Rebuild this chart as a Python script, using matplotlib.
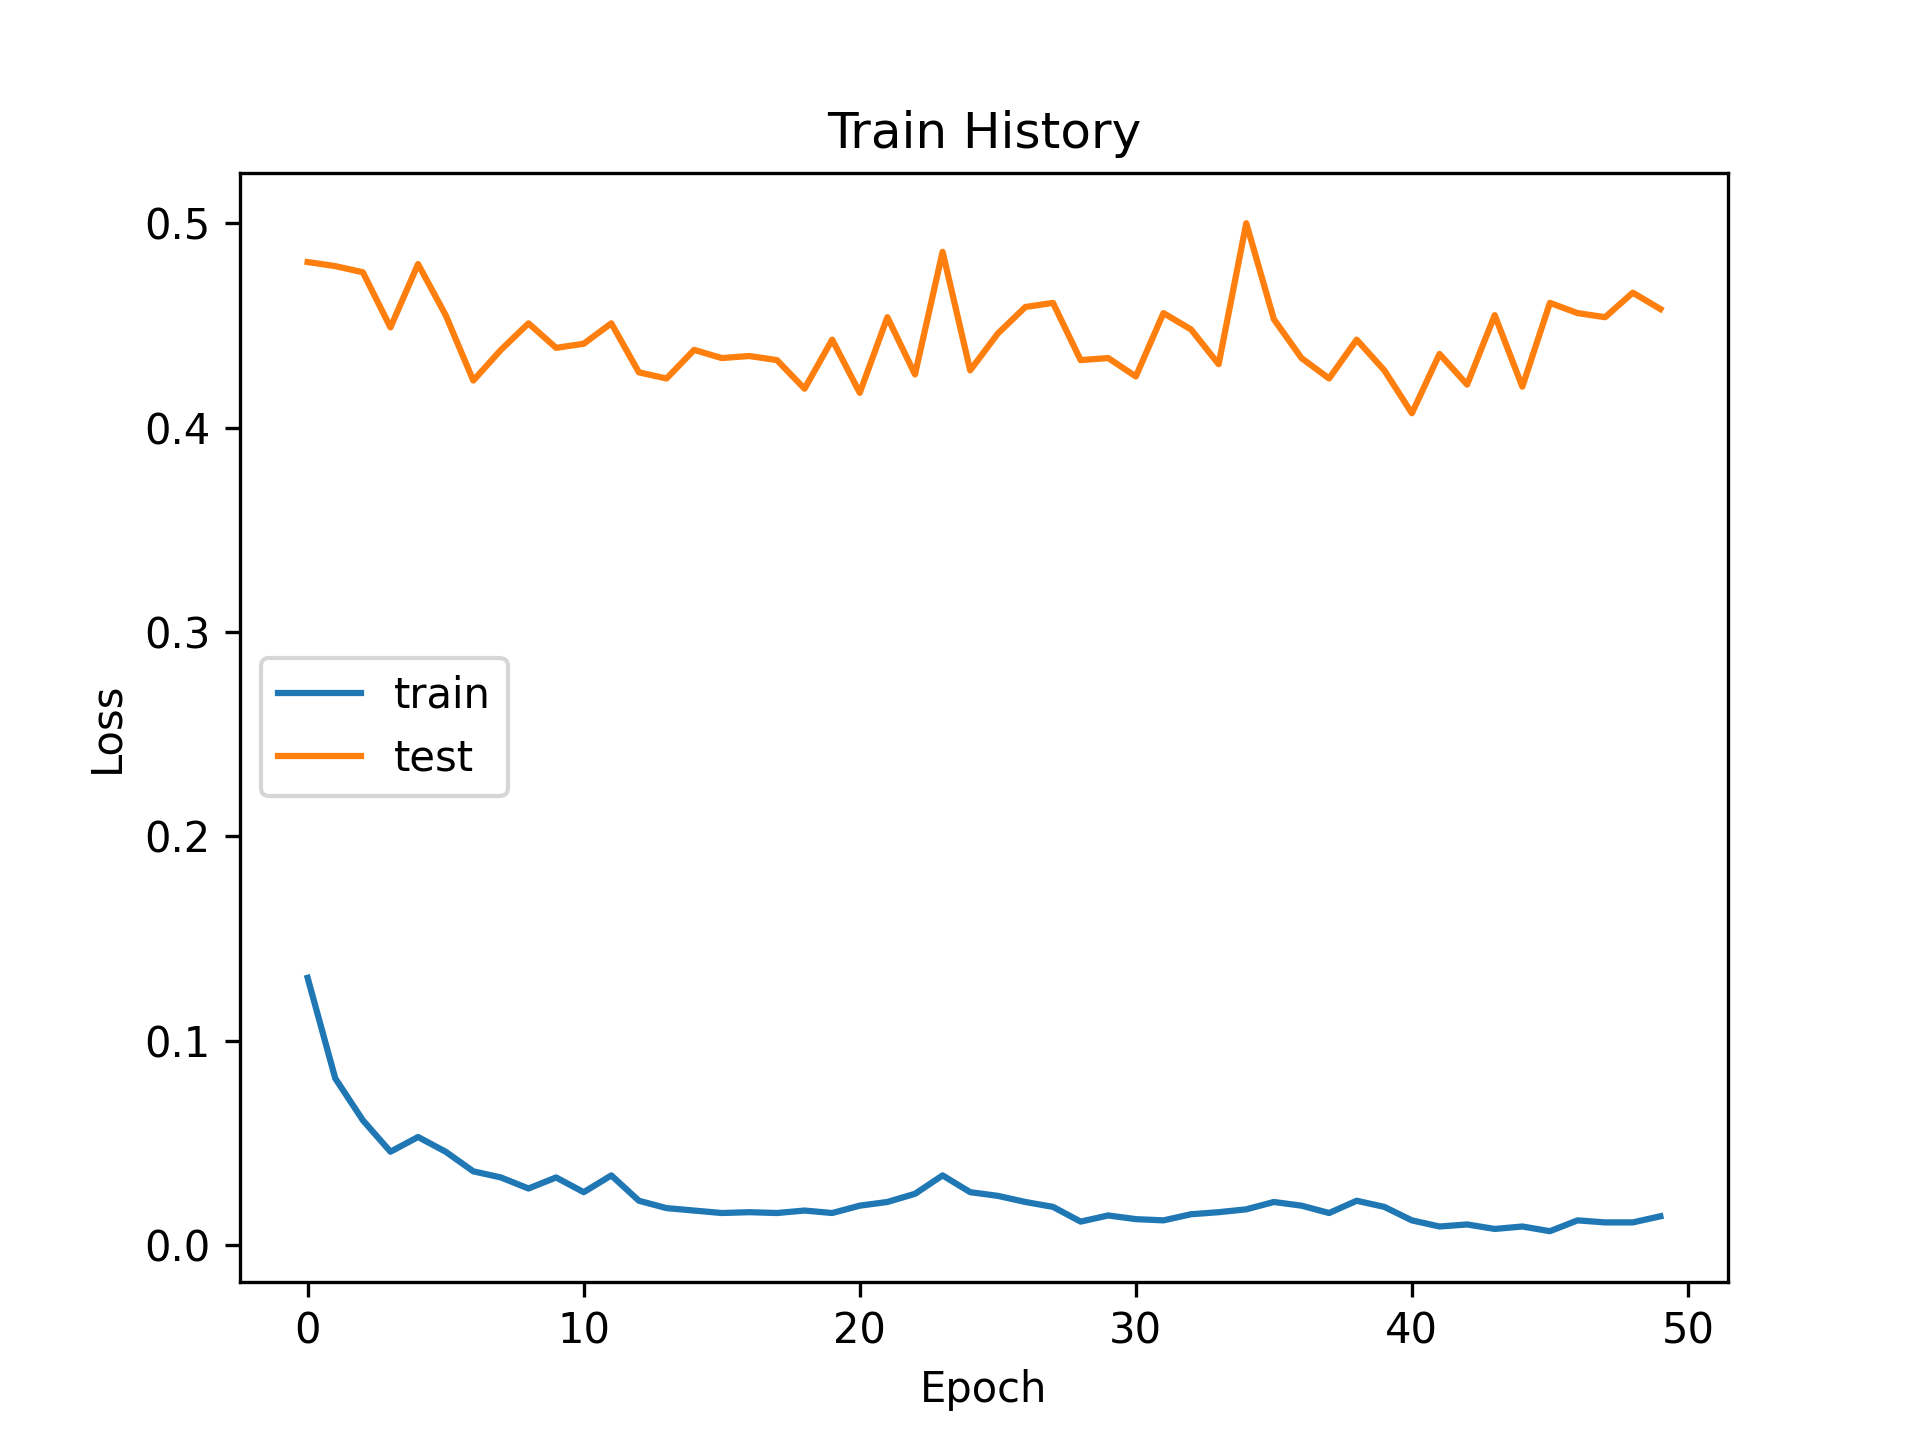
import numpy as np
import matplotlib
matplotlib.use('Agg')
import matplotlib.pyplot as plt

epochs = np.arange(50)
train_loss = [0.1307, 0.0815, 0.061, 0.0456, 0.0528, 0.0456, 0.036, 0.033, 0.0276, 0.033,
              0.0258, 0.034, 0.0216, 0.018, 0.0168, 0.0156, 0.016, 0.0156, 0.0168, 0.0156,
              0.0192, 0.021, 0.025, 0.034, 0.0258, 0.024, 0.021, 0.0186, 0.0114, 0.0144,
              0.0126, 0.012, 0.015, 0.016, 0.0174, 0.021, 0.0192, 0.0156, 0.0216, 0.0186,
              0.012, 0.009, 0.010, 0.0078, 0.009, 0.0067, 0.012, 0.0110, 0.0110, 0.0140]
test_loss = [0.481, 0.479, 0.476, 0.449, 0.480, 0.455, 0.423, 0.438, 0.451, 0.439,
             0.441, 0.451, 0.427, 0.424, 0.438, 0.434, 0.435, 0.433, 0.419, 0.443,
             0.417, 0.454, 0.426, 0.486, 0.428, 0.446, 0.459, 0.461, 0.433, 0.434,
             0.425, 0.456, 0.448, 0.431, 0.500, 0.453, 0.434, 0.424, 0.443, 0.428,
             0.407, 0.436, 0.421, 0.455, 0.420, 0.461, 0.456, 0.454, 0.466, 0.458]

plt.figure(figsize=(6.4, 4.8), dpi=300)
plt.plot(epochs, train_loss)
plt.plot(epochs, test_loss)
plt.title('Train History')
plt.ylabel('Loss')
plt.xlabel('Epoch')
plt.legend(['train', 'test'], loc='center left')
plt.savefig('out.png', dpi=300)
